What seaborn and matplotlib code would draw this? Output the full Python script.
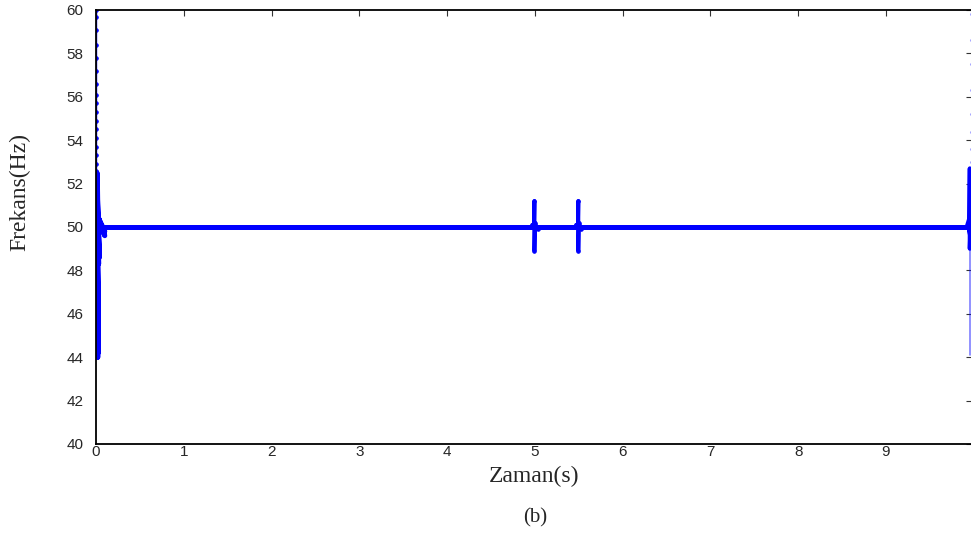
import matplotlib
matplotlib.use('Agg')
import matplotlib.pyplot as plt
import seaborn as sns

sns.set_style('white')
plt.rcParams['font.family'] = ['Liberation Sans', 'DejaVu Sans']

# steady 50 Hz trace
main_t = [0.03, 4.98, 5.02, 5.48, 5.52, 9.94]
main_f = [50.0, 50.0, 50.0, 50.0, 50.0, 50.0]

# start-up transient (dots climbing the left edge)
start_top_t = [0.0, 0.0, 0.0, 0.0, 0.0, 0.0, 0.0, 0.0, 0.0, 0.0, 0.0, 0.0, 0.0, 0.0, 0.0, 0.0, 0.0]
start_top_f = [60.0, 59.7, 59.1, 58.4, 57.8, 57.2, 56.6, 56.1, 55.7, 55.3, 54.9, 54.5, 54.1, 53.7, 53.3, 52.9, 52.6]
# start-up oscillation band
start_t = [0.01, 0.02, 0.01, 0.025, 0.01, 0.025, 0.015, 0.03, 0.015, 0.04, 0.02, 0.1, 0.03, 0.1, 0.05]
start_f = [52.5, 44.0, 52.5, 44.2, 52.4, 45.0, 52.3, 48.3, 51.5, 48.6, 50.5, 49.6, 50.4, 49.8, 50.0]

# disturbances at 5 s and 5.5 s
dist1_t = [4.99, 4.995, 4.995, 5.0, 5.03, 4.97, 5.0]
dist1_f = [50.0, 51.2, 48.9, 50.2, 49.9, 50.1, 50.0]
dist2_t = [5.49, 5.495, 5.495, 5.5, 5.53, 5.47, 5.5]
dist2_f = [50.0, 51.2, 48.9, 50.2, 49.9, 50.1, 50.0]

# end transient
end_t = [9.92, 9.95, 9.955, 9.955, 9.96, 9.94, 9.955]
end_f = [50.0, 50.4, 52.7, 49.0, 49.6, 50.0, 50.0]
end_faint_t = [9.96, 9.96, 9.96]
end_faint_f = [49.0, 46.5, 44.1]
end_top_t = [9.965, 9.965, 9.965, 9.965, 9.965, 9.965, 9.965, 9.965]
end_top_f = [59.8, 58.6, 57.5, 56.3, 55.2, 54.4, 53.6, 53.0]

xticks = [0, 1, 2, 3, 4, 5, 6, 7, 8, 9]
yticks = [40, 42, 44, 46, 48, 50, 52, 54, 56, 58, 60]

blue = '#0000ff'

fig = plt.figure(figsize=(9.71, 5.37), dpi=100)
ax = fig.add_axes([96 / 971, 93 / 537, 876 / 971, 434 / 537])

sns.lineplot(x=start_top_t, y=start_top_f, sort=False, estimator=None, ax=ax,
             color=blue, lw=1.0, marker='.', markersize=5, markeredgecolor=blue)
sns.lineplot(x=start_t, y=start_f, sort=False, estimator=None, ax=ax,
             color=blue, lw=3.6)
sns.lineplot(x=main_t, y=main_f, sort=False, estimator=None, ax=ax,
             color=blue, lw=3.6)
for tt, ff in [(dist1_t, dist1_f), (dist2_t, dist2_f)]:
    sns.lineplot(x=tt, y=ff, sort=False, estimator=None, ax=ax,
                 color=blue, lw=2.8, marker='.', markersize=5, markeredgecolor=blue)
sns.lineplot(x=end_t, y=end_f, sort=False, estimator=None, ax=ax,
             color=blue, lw=3.0)
sns.lineplot(x=end_faint_t, y=end_faint_f, sort=False, estimator=None, ax=ax,
             color=blue, lw=1.2, alpha=0.5)
sns.lineplot(x=end_top_t, y=end_top_f, sort=False, estimator=None, ax=ax,
             color=blue, lw=0, marker='.', markersize=3, alpha=0.25, markeredgecolor=blue)

ax.set_xlim(0, 9.98)
ax.set_ylim(40, 60)
ax.set_xticks(xticks)
ax.set_yticks(yticks)
ax.tick_params(direction='in', length=4, width=0.8, color='#333333',
               labelsize=11, top=True, right=True)
ax.tick_params(axis='y', pad=9)
ax.tick_params(axis='x', pad=1)
for s in ax.spines.values():
    s.set_color('black')
    s.set_linewidth(1.3)
ax.spines['right'].set_visible(False)

ax.set_xlabel('Zaman(s)', family=['Liberation Serif', 'DejaVu Serif'], fontsize=17, labelpad=5)
ax.set_ylabel('Frekans(Hz)', family=['Liberation Serif', 'DejaVu Serif'], fontsize=17)
ax.yaxis.set_label_coords(-0.075, 0.58)
fig.text(535 / 971, 1 - 518 / 537, '(b)', family=['Liberation Serif', 'DejaVu Serif'],
         fontsize=15, ha='center', va='center')

fig.savefig('out.png', dpi=100)
